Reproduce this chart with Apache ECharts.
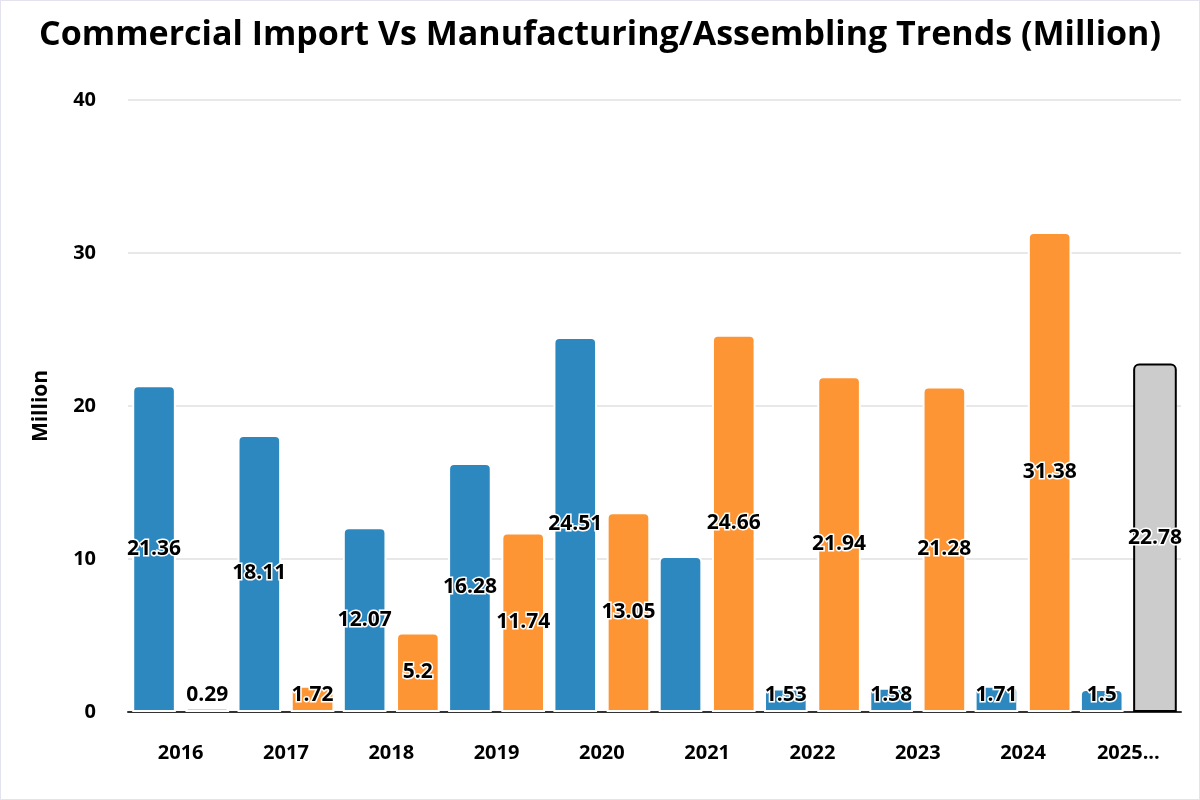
<!DOCTYPE html>
<html><head><meta charset="utf-8">
<script src="https://cdn.jsdelivr.net/npm/echarts@6/dist/echarts.min.js"></script>
<style>
html,body{margin:0;padding:0;background:#fff;}
#c{width:1198px;height:798px;border:1px solid #e3e3ef;}
</style></head><body>
<div id="c"></div>
<script>
const categories = ['2016','2017','2018','2019','2020','2021','2022','2023','2024','2025...'];
const commercialImport = [21.36, 18.11, 12.07, 16.28, 24.51, 10.2, 1.53, 1.58, 1.71, 1.5];
const manufacturing = [0.29, 1.72, 5.2, 11.74, 13.05, 24.66, 21.94, 21.28, 31.38, 22.78];
const yTicks = [0, 10, 20, 30, 40];
const hiddenLabelIndex = 5; // 2021 commercial import has no label in the reference
const highlightIndex = 9;   // 2025 manufacturing drawn in grey

const chart = echarts.init(document.getElementById('c'));
const labelStyle = {
  show: true, position: 'inside', color: '#000', fontWeight: 'bold',
  fontSize: 21, fontFamily: 'Open Sans', textBorderColor: '#fff', textBorderWidth: 3,
  formatter: p => String(p.value)
};
const smallLabel = { position: 'insideBottom', distance: 6 };
function item(v, extra) {
  const o = { value: v };
  if (v < 2) o.label = smallLabel;
  return Object.assign(o, extra || {});
}
chart.setOption({
  animation: false,
  title: {
    text: 'Commercial Import Vs Manufacturing/Assembling Trends (Million)',
    left: 'center', top: 12,
    textStyle: { fontSize: 34, fontWeight: 'bold', color: '#000', fontFamily: 'Open Sans' }
  },
  grid: { left: 127, right: 18, top: 99, bottom: 87, containLabel: false },
  xAxis: {
    type: 'category', data: categories,
    axisLine: { lineStyle: { color: '#333', width: 2 } },
    axisTick: { show: false },
    axisLabel: { color: '#000', fontWeight: 'bold', fontSize: 20, fontFamily: 'Open Sans', margin: 31 }
  },
  yAxis: {
    type: 'value', min: yTicks[0], max: yTicks[yTicks.length - 1], interval: 10,
    name: 'Million', nameLocation: 'middle', nameGap: 76,
    nameTextStyle: { color: '#000', fontWeight: 'bold', fontSize: 21, fontFamily: 'Open Sans' },
    axisLine: { show: false }, axisTick: { show: false },
    axisLabel: { color: '#000', fontWeight: 'bold', fontSize: 20, fontFamily: 'Open Sans', margin: 32 },
    splitLine: { lineStyle: { color: '#e0e0e0', width: 1.5 } }
  },
  series: [
    {
      name: 'Commercial Import', type: 'bar', barGap: '22%', barCategoryGap: '8%',
      itemStyle: { color: '#2e88c0', borderRadius: [5, 5, 0, 0], borderColor: '#fff', borderWidth: 2 },
      data: commercialImport.map((v, i) => i === hiddenLabelIndex ? { value: v, label: { show: false } } : item(v)),
      label: labelStyle
    },
    {
      name: 'Manufacturing/Assembling', type: 'bar',
      itemStyle: { color: '#fe9535', borderRadius: [5, 5, 0, 0], borderColor: '#fff', borderWidth: 2 },
      data: manufacturing.map((v, i) => i === highlightIndex
        ? item(v, { itemStyle: { color: '#cccccc', borderColor: '#000', borderWidth: 2 } }) : item(v)),
      label: labelStyle
    }
  ]
});
</script></body></html>
